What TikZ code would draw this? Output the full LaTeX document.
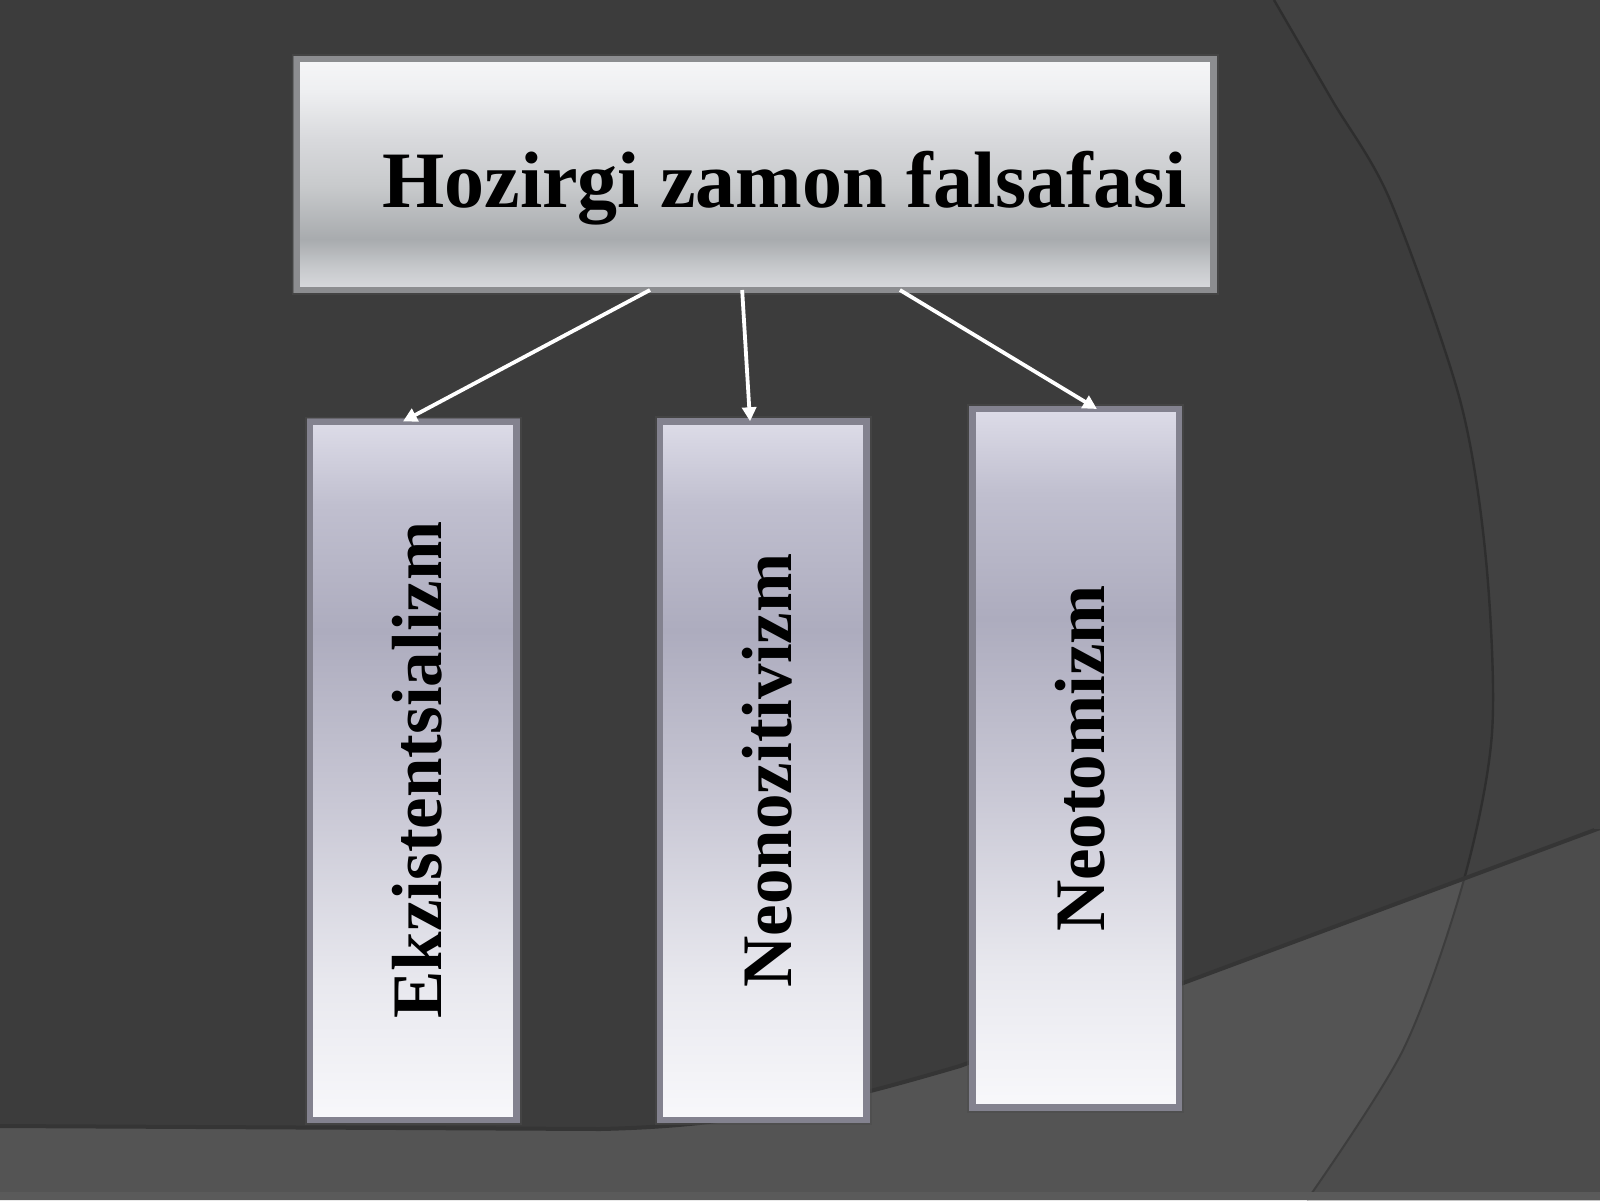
\documentclass[tikz,border=0pt]{standalone}
\usepackage{fontspec}
\setmainfont{Liberation Serif}
\usetikzlibrary{arrows.meta,calc}
\definecolor{bgmain}{HTML}{3C3C3C}
\definecolor{bgright}{HTML}{414141}
\definecolor{bandcol}{HTML}{545454}
\definecolor{bandright}{HTML}{4C4C4C}
\definecolor{arcline}{HTML}{2E2E2E}
\definecolor{edgeshadow}{HTML}{353535}
\definecolor{stripcol}{HTML}{5A5A5A}
\definecolor{topframe}{HTML}{8C8D90}
\definecolor{subframe}{HTML}{83828F}
\definecolor{tba}{HTML}{F6F6F8}
\definecolor{tbb}{HTML}{EEEFF1}
\definecolor{tbc}{HTML}{D8D9DC}
\definecolor{tbd}{HTML}{C8CACC}
\definecolor{tbe}{HTML}{A8ABAE}
\definecolor{tbf}{HTML}{C6C8CB}
\definecolor{tbg}{HTML}{D9DADE}
\definecolor{sba}{HTML}{DDDCE8}
\definecolor{sbb}{HTML}{C0BFCF}
\definecolor{sbc}{HTML}{ADACBE}
\definecolor{sbd}{HTML}{C9C8D5}
\definecolor{sbe}{HTML}{E8E8EE}
\definecolor{sbf}{HTML}{F8F8FB}
\pgfdeclareverticalshading{topshade}{100bp}{color(0bp)=(tbg); color(25bp)=(tbg); color(30bp)=(tbf); color(36bp)=(tbe); color(47.5bp)=(tbd); color(57.5bp)=(tbc); color(68bp)=(tbb); color(75bp)=(tba); color(100bp)=(tba)}
\pgfdeclareverticalshading{subshade}{100bp}{color(0bp)=(sbf); color(25bp)=(sbf); color(35bp)=(sbe); color(47.5bp)=(sbd); color(60bp)=(sbc); color(69bp)=(sbb); color(75bp)=(sba); color(100bp)=(sba)}
\tikzset{
  topbox/.style={rectangle, draw=topframe, line width=3.25pt, shading=topshade,
    minimum width=458.5pt, minimum height=115.5pt, inner sep=0pt, outer sep=0pt},
  subbox/.style={rectangle, draw=subframe, line width=3.25pt, shading=subshade,
    minimum width=103.25pt, minimum height=349.25pt, inner sep=0pt, outer sep=0pt},
  glow/.style={draw=gray!60!black, line width=1pt, opacity=0.5},
  vlabel/.style={rotate=90, anchor=base, inner sep=0pt, text=black,
    font=\bfseries\fontsize{35.5pt}{40pt}\selectfont},
  titlelabel/.style={anchor=base, inner sep=0pt, text=black,
    font=\bfseries\fontsize{40pt}{46pt}\selectfont},
  arr/.style={draw=white, line width=1.9pt, -{Triangle[length=7pt,width=7pt]}}
}
\begin{document}
\begin{tikzpicture}[x=0.5pt,y=-0.5pt]
\useasboundingbox (0,0) rectangle (1600,1200);
% background
\fill[bgmain] (0,0) rectangle (1600,1200);
\def\arcpath{plot[smooth] coordinates {(1274,0) (1332,100) (1390,200) (1460,400) (1486,560) (1492,733) (1463,883) (1403,1050) (1307,1200)}}
\fill[bgright] \arcpath -- (1600,1200) -- (1600,0) -- cycle;
\def\bandpath{(0,1127) -- (600,1130) .. controls (740,1127) and (830,1105) .. (960,1067) -- (1600,829) -- (1600,1200) -- (0,1200) -- cycle}
\fill[bandcol] \bandpath;
\begin{scope}
  \clip \bandpath;
  \fill[bandright] \arcpath -- (1600,1200) -- (1600,0) -- cycle;
  \draw[bandright!80!black, line width=1pt] \arcpath;
\end{scope}
\begin{scope}
  \clip (0,0) -- (0,1127) -- (600,1130) .. controls (740,1127) and (830,1105) .. (960,1067) -- (1600,829) -- (1600,0) -- cycle;
  \draw[arcline, line width=1.2pt] \arcpath;
\end{scope}
\draw[edgeshadow, line width=2pt] (0,1126) -- (600,1129) .. controls (740,1126) and (830,1104) .. (960,1066) -- (1600,828);
\fill[stripcol] (0,1192) rectangle (1600,1200);
\fill[bgright] (1594,0) rectangle (1600,829);
% boxes
\node[topbox] (top) at (755,174.5) {};
\node[subbox] (b1) at (413.25,770.75) {};
\node[subbox] (b2) at (763.25,770.5) {};
\node[subbox] (b3) at (1075.5,758.25) {};
\draw[glow] ($(top.south west)+(-4,4)$) rectangle ($(top.north east)+(4,-4)$);
\draw[glow] ($(b1.south west)+(-4,4)$) rectangle ($(b1.north east)+(4,-4)$);
\draw[glow] ($(b2.south west)+(-4,4)$) rectangle ($(b2.north east)+(4,-4)$);
\draw[glow] ($(b3.south west)+(-4,4)$) rectangle ($(b3.north east)+(4,-4)$);
% texts
\node[titlelabel] (title) at (784.5,207) {Hozirgi zamon falsafasi};
\node[vlabel] (t1) at (441,770) {Ekzistentsializm};
\node[vlabel] (t2) at (791,770.5) {Neonozitivizm};
\node[vlabel] (t3) at (1104,758.5) {Neotomizm};
% connectors
\draw[arr] ($(top.south west)!0.3855!(top.south east)$) -- ($(b1.north west)!0.45!(b1.north east)$);
\draw[arr] ($(top.south west)!0.486!(top.south east)$) -- ($(b2.north west)!0.436!(b2.north east)$);
\draw[arr] ($(top.south west)!0.658!(top.south east)$) -- ($(b3.north west)!0.604!(b3.north east)$);
\end{tikzpicture}
\end{document}
